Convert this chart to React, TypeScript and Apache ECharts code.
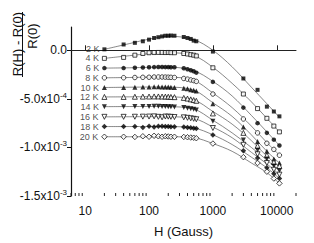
import React, { useEffect, useRef } from "react";
import * as echarts from "echarts";

// Magnetic field values (Gauss) of the measured points
const H = [20, 40, 60, 80, 100, 120, 140, 160, 180, 200, 220, 250, 350, 400, 450, 500, 550, 1000, 3000, 5000, 7000, 9000, 11000];
// Field values of the fitted curves
const HF = [20, 50, 100, 200, 500, 1000, 2000, 4000, 7000, 11000];

const temps = ["2 K", "4 K", "6 K", "8 K", "10 K", "12 K", "14 K", "16 K", "18 K", "20 K"];

// measured (R(H)-R(0))/R(0), in units of 1e-4
const d2K = [0.1, 0.6, 0.77, 0.93, 1.1, 1.27, 1.35, 1.43, 1.5, 1.5, 1.52, 1.5, 1.37, 1.27, 1.17, 1.0, 0.93, -0.13, -2.9, -4.07, -5.8, -6.3, -6.8];
const d4K = [-0.83, -0.73, -0.5, -0.33, -0.25, -0.23, -0.22, -0.22, -0.23, -0.22, -0.24, -0.25, -0.33, -0.38, -0.45, -0.5, -0.58, -1.8, -4.5, -6.0, -7.0, -7.8, -8.4];
const d6K = [-1.83, -1.83, -1.8, -1.77, -1.75, -1.73, -1.72, -1.72, -1.73, -1.73, -1.74, -1.75, -1.85, -1.95, -2.05, -2.15, -2.3, -3.25, -5.9, -7.5, -8.5, -9.2, -9.8];
const d8K = [-2.83, -2.82, -2.8, -2.78, -2.77, -2.75, -2.75, -2.75, -2.76, -2.77, -2.78, -2.8, -2.9, -2.97, -3.05, -3.12, -3.2, -4.5, -7.07, -8.5, -9.57, -10.2, -10.8];
const d10K = [-3.83, -3.82, -3.8, -3.78, -3.77, -3.76, -3.76, -3.77, -3.78, -3.79, -3.8, -3.82, -3.9, -3.97, -4.05, -4.12, -4.2, -5.5, -7.9, -9.4, -10.4, -11.2, -11.6];
const d12K = [-4.8, -4.8, -4.78, -4.77, -4.76, -4.75, -4.75, -4.76, -4.77, -4.78, -4.8, -4.82, -4.9, -4.97, -5.05, -5.12, -5.2, -6.5, -8.5, -9.83, -10.8, -11.5, -11.9];
const d14K = [-5.8, -5.8, -5.79, -5.78, -5.78, -5.77, -5.77, -5.78, -5.79, -5.8, -5.82, -5.84, -5.9, -5.96, -6.02, -6.08, -6.15, -7.3, -9.23, -10.3, -11.2, -11.9, -12.4];
const d16K = [-6.85, -6.85, -6.84, -6.83, -6.82, -6.8, -6.85, -6.9, -6.82, -6.83, -6.85, -6.87, -6.9, -6.95, -7.0, -7.05, -7.1, -8.0, -9.73, -10.7, -11.6, -12.3, -12.8];
const d18K = [-7.85, -7.85, -7.84, -7.95, -7.83, -7.9, -7.82, -7.83, -7.85, -7.84, -7.86, -7.87, -7.9, -7.95, -7.98, -8.02, -8.05, -8.73, -10.33, -11.1, -12.1, -12.7, -13.2];
const d20K = [-8.9, -8.9, -8.92, -8.85, -8.9, -8.8, -8.85, -8.9, -8.85, -8.87, -8.9, -8.9, -8.92, -8.95, -8.98, -9.0, -9.05, -9.6, -11.0, -11.6, -12.5, -13.2, -13.7];

// fitted curves, in units of 1e-4
const f2K = [0.1, 0.7, 1.15, 1.45, 1.1, 0.0, -1.7, -3.8, -5.5, -6.9];
const f4K = [-0.83, -0.55, -0.35, -0.25, -0.55, -1.75, -3.4, -5.3, -7.0, -8.4];
const f6K = [-1.83, -1.8, -1.75, -1.73, -2.1, -3.2, -4.7, -6.7, -8.4, -9.8];
const f8K = [-2.83, -2.8, -2.77, -2.77, -3.1, -4.4, -5.9, -7.8, -9.5, -10.8];
const f10K = [-3.83, -3.8, -3.78, -3.79, -4.1, -5.4, -6.8, -8.7, -10.4, -11.6];
const f12K = [-4.8, -4.79, -4.77, -4.78, -5.1, -6.3, -7.6, -9.3, -10.9, -12.0];
const f14K = [-5.8, -5.79, -5.78, -5.8, -6.05, -7.2, -8.5, -10.0, -11.3, -12.4];
const f16K = [-6.85, -6.84, -6.83, -6.84, -7.02, -7.9, -9.0, -10.5, -11.7, -12.8];
const f18K = [-7.85, -7.85, -7.84, -7.85, -8.0, -8.7, -9.7, -11.0, -12.1, -13.2];
const f20K = [-8.9, -8.9, -8.9, -8.9, -9.0, -9.6, -10.4, -11.6, -12.6, -13.7];

const measured = [d2K, d4K, d6K, d8K, d10K, d12K, d14K, d16K, d18K, d20K];
const fits = [f2K, f4K, f6K, f8K, f10K, f12K, f14K, f16K, f18K, f20K];

// y tick values (units of 1e-4) and their labels
const yTickValues = [0, -5, -10, -15];
const yTickLabels = ["0.0", "-5.0x10{s|-4}", "-1.0x10{s|-3}", "-1.5x10{s|-3}"];
const xTickLabels = ["10", "100", "1000", "10000"];
const xMinorTicks = [6, 7, 8, 9, 20, 30, 40, 50, 60, 70, 80, 90, 200, 300, 400, 500, 600, 700, 800, 900, 2000, 3000, 4000, 5000, 6000, 7000, 8000, 9000, 20000];

const markerStyles = [
  { symbol: "rect", filled: true, size: 4 },
  { symbol: "rect", filled: false, size: 4 },
  { symbol: "circle", filled: true, size: 4.5 },
  { symbol: "circle", filled: false, size: 4.5 },
  { symbol: "triangle", filled: true, size: 5, rotate: 0 },
  { symbol: "triangle", filled: false, size: 5, rotate: 0 },
  { symbol: "triangle", filled: true, size: 5, rotate: 180 },
  { symbol: "triangle", filled: false, size: 5, rotate: 180 },
  { symbol: "diamond", filled: true, size: 5.5 },
  { symbol: "diamond", filled: false, size: 5.5 },
];

const FONT = "'Liberation Sans', Arial, sans-serif";
const Y_MIN = -15;
const Y_MAX = 2.4;

export default function App() {
  const ref = useRef<HTMLDivElement>(null);
  useEffect(() => {
    if (!ref.current) return;
    const chart = echarts.init(ref.current, undefined, { renderer: "svg" });
    const series: any[] = [];
    temps.forEach((t, k) => {
      const ms = markerStyles[k];
      series.push({
        type: "line",
        data: HF.map((h, i) => [h, fits[k][i]]),
        smooth: 0.35,
        showSymbol: false,
        silent: true,
        lineStyle: { color: "#555", width: 0.7 },
        z: 2,
      });
      series.push({
        type: "scatter",
        name: t,
        symbol: ms.symbol,
        symbolSize: ms.size,
        symbolRotate: ms.rotate || 0,
        itemStyle: {
          color: ms.filled ? "#000" : "#fff",
          borderColor: "#000",
          borderWidth: ms.filled ? 0 : 0.9,
        },
        data: H.map((h, i) =>
          i === 0
            ? {
                value: [h, measured[k][i]],
                label: {
                  show: true,
                  position: "left",
                  distance: 3,
                  formatter: t,
                  fontSize: 9,
                  color: "#222",
                  fontFamily: FONT,
                },
              }
            : [h, measured[k][i]]
        ),
        z: 3,
      });
    });
    series.push({
      type: "custom",
      silent: true,
      data: xMinorTicks.map((v) => [v, Y_MIN]),
      renderItem: (params: any, api: any) => {
        const p = api.coord([api.value(0), api.value(1)]);
        return {
          type: "line",
          shape: { x1: p[0], y1: p[1], x2: p[0], y2: p[1] - 3 },
          style: { stroke: "#222", lineWidth: 1 },
        };
      },
      clip: false,
      z: 1,
    });

    chart.setOption({
      animation: false,
      backgroundColor: "#fff",
      grid: { left: 71, right: 18, top: 27, bottom: 44 },
      xAxis: {
        type: "log",
        logBase: 10,
        min: 6,
        max: 20000,
        axisLine: { show: true, lineStyle: { color: "#222", width: 1 } },
        axisTick: { show: true, inside: true, length: 5, lineStyle: { color: "#222" } },
        splitLine: { show: false },
        axisLabel: {
          showMinLabel: false,
          showMaxLabel: false,
          margin: 9,
          fontSize: 12,
          fontFamily: FONT,
          color: "#111",
          formatter: (v: number) => {
            const s = String(Math.round(v));
            return xTickLabels.includes(s) ? s : "";
          },
        },
        name: "H (Gauss)",
        nameLocation: "middle",
        nameGap: 29,
        nameTextStyle: { fontSize: 13, fontFamily: FONT, color: "#111" },
      },
      yAxis: {
        type: "value",
        min: Y_MIN,
        max: Y_MAX,
        interval: 5,
        axisLine: { show: true, lineStyle: { color: "#111", width: 1.2 } },
        axisTick: { show: true, inside: false, length: 4, lineStyle: { color: "#111" } },
        splitLine: { show: false },
        axisLabel: {
          showMaxLabel: false,
          margin: 4,
          fontSize: 12,
          fontFamily: FONT,
          color: "#111",
          formatter: (v: number) => {
            const idx = yTickValues.findIndex((t) => Math.abs(t - v) < 1e-6);
            return idx >= 0 ? yTickLabels[idx] : "";
          },
          rich: {
            s: { fontSize: 8, fontFamily: FONT, color: "#111", verticalAlign: "top", padding: [0, 0, 7, 0] },
          },
        },
      },
      graphic: [
        {
          type: "group",
          x: 17,
          y: 44,
          rotation: Math.PI / 2,
          children: [
            {
              type: "text",
              x: 0,
              y: 0,
              style: {
                text: "R(H) - R(0)",
                fontSize: 13,
                fontFamily: FONT,
                fill: "#111",
                align: "center",
                verticalAlign: "middle",
                textAlign: "center",
                textVerticalAlign: "middle",
              },
            },
          ],
        },
        {
          type: "line",
          shape: { x1: 22.5, y1: 12, x2: 22.5, y2: 77 },
          style: { stroke: "#111", lineWidth: 1 },
        },
        {
          type: "group",
          x: 32,
          y: 36,
          rotation: Math.PI / 2,
          children: [
            {
              type: "text",
              x: 0,
              y: 0,
              style: {
                text: "R(0)",
                fontSize: 13,
                fontFamily: FONT,
                fill: "#111",
                align: "center",
                verticalAlign: "middle",
                textAlign: "center",
                textVerticalAlign: "middle",
              },
            },
          ],
        },
      ],
      series,
    });
    return () => chart.dispose();
  }, []);
  return (
    <div
      ref={ref}
      style={{ position: "fixed", left: 0, top: 0, width: 314, height: 243, background: "#fff" }}
    />
  );
}
